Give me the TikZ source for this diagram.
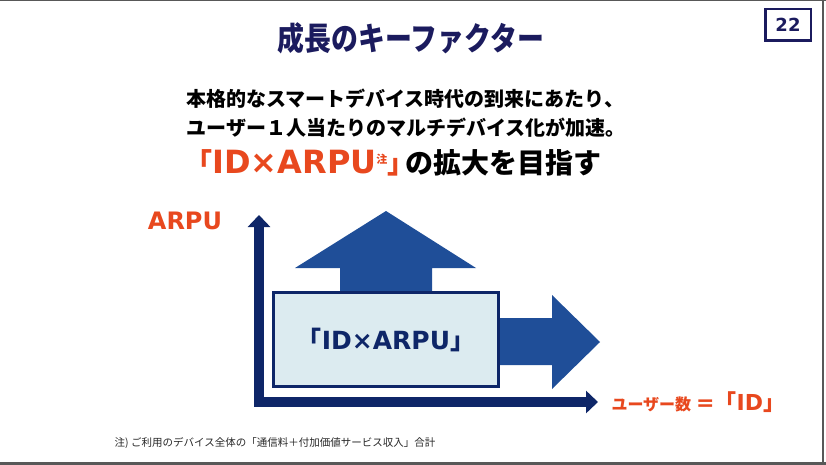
\documentclass[tikz,border=0pt]{standalone}
\usepackage{fontspec}
\newfontfamily\jp{Noto Sans CJK JP}
\newfontfamily\jptitle[FakeStretch=0.84]{Noto Sans CJK JP}
\newfontfamily\lat{DejaVu Sans}
\usetikzlibrary{arrows.meta, positioning}
\usepackage{xcolor}
\definecolor{navy}{RGB}{27,27,94}
\definecolor{axisblue}{RGB}{14,38,104}
\definecolor{arrowblue}{RGB}{31,78,152}
\definecolor{boxfill}{RGB}{220,235,240}
\definecolor{accent}{RGB}{232,72,30}
\definecolor{framegray}{RGB}{88,88,88}

\begin{document}
\begin{tikzpicture}[
        x=1pt, y=-1pt,
        headline/.style={
          font=\jptitle\bfseries\fontsize{32}{36}\selectfont,
          text=navy
        },
        lead/.style={
          font=\jp\bfseries\fontsize{20}{24}\selectfont,
          text=black
        },
        pagebox/.style={
          rectangle,
          draw=navy,
          line width=2.5pt,
          minimum width=45.5pt,
          minimum height=31.5pt,
          font=\lat\bfseries\fontsize{18}{20}\selectfont,
          text=navy
        },
        idbox/.style={
          rectangle,
          draw=axisblue,
          fill=boxfill,
          line width=3pt,
          minimum width=225pt,
          minimum height=94pt,
          font=\jp\bfseries\fontsize{25}{28}\selectfont,
          text=axisblue
        },
        axis/.style={
          draw=axisblue,
          line width=10pt,
          line join=miter,
          {Triangle[length=12pt,width=22pt]}-{Triangle[length=12pt,width=22pt]}
        },
        blockarrow/.style={
          fill=arrowblue
        },
        note/.style={
          font=\jp\fontsize{10.5}{12}\selectfont,
          text=black!85
        }
      ]
      \useasboundingbox (0,0) rectangle (826,465);

      % Frame
      \draw[framegray, line width=1.5pt] (0,0.75) -- (826,0.75);
      \draw[framegray, line width=3pt] (0,463.5) -- (826,463.5);
      \draw[framegray, line width=2pt] (823,0) -- (823,465);

      % Heading
      \node[headline] (title) at (411,38) {成長のキーファクター};
      \node[pagebox] (page) at (788,25) {22};

      \node[lead] (line1) at (405,99) {本格的なスマートデバイス時代の到来にあたり、};
      \node[lead] (line2) at (406,128) {ユーザー１人当たりのマルチデバイス化が加速。};
      \node[lead, font=\jp\bfseries\fontsize{28}{32}\selectfont] (goal) at (393,163)
        {{\color{accent}「{\lat\fontsize{32}{33}\selectfont ID×ARPU}\raisebox{10pt}{\fontsize{11}{11}\selectfont 注}」}\kern-0.35em の拡大を目指す};

      % Axes
      \coordinate (origin) at (259,402);
      \coordinate (ytop) at (259,215);
      \coordinate (xend) at (598,402);
      \draw[axis] (ytop) -- (origin) -- (xend);

      \node[text=accent, font=\lat\bfseries\fontsize{24}{26}\selectfont] (arpu) at (185,221) {ARPU};
      \node[anchor=west, text=accent, font=\jp\bfseries] (users) at (608,402)
        {{\fontsize{16}{18}\selectfont ユーザー数}\kern5pt{\fontsize{22}{24}\selectfont {\lat =}「{\lat ID}」}};

      % Growth arrows
      \fill[blockarrow] (340,292) -- (340,268) -- (295,268) -- (386,211) -- (476,268) -- (432,268) -- (432,292) -- cycle;
      \fill[blockarrow] (495,318) -- (552,318) -- (552,295) -- (600,342) -- (552,389) -- (552,365) -- (495,365) -- cycle;

      \node[idbox] (idxarpu) at (386,339.5) {「{\lat ID×ARPU}」};

      % Footnote
      \node[note] (foot) at (275,443) {注)\ ご利用のデバイス全体の「通信料＋付加価値サービス収入」合計};

    \end{tikzpicture}
\end{document}
